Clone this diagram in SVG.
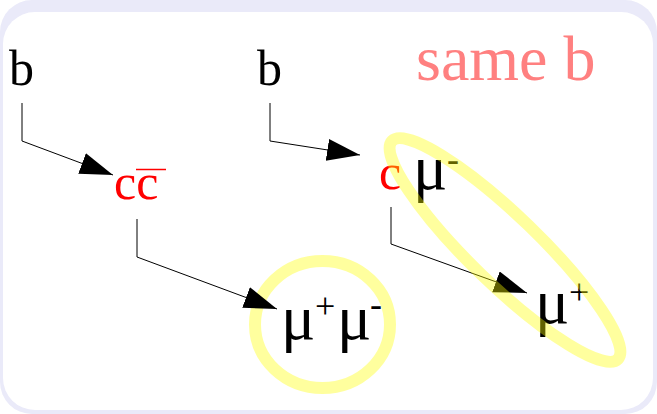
<svg xmlns="http://www.w3.org/2000/svg" width="657" height="414" viewBox="0 0 657 414">
<defs>
<style>
.t{font-family:"Liberation Serif","Times New Roman",serif;fill:#000}
.big{font-size:50px}
.mu{font-size:64px}
.sup{font-size:36px}
.red{fill:#ff0000}
.conn{fill:none;stroke:#000;stroke-width:1}
.hl{fill:none;stroke:#ffff00;stroke-opacity:0.38;stroke-width:12}
</style>
<marker id="ah" markerUnits="userSpaceOnUse" markerWidth="34" markerHeight="24" refX="33" refY="11" orient="auto">
<path d="M0,0 L33,11 L0,22 Z" fill="#000"/>
</marker>
</defs>
<rect x="0" y="0" width="657" height="414" rx="32" fill="#eaeaf9"/>
<rect x="3" y="12" width="650" height="398" rx="32" fill="#fff"/>
<g id="label-same">
<text class="t" x="416" y="80" style="font-size:64px;fill:#ff8080">same b</text>
</g>
<g id="b1"><text class="t big" x="9" y="85">b</text></g>
<g id="b2"><text class="t big" x="257" y="85">b</text></g>
<g id="ccbar">
<text class="t big red" x="114" y="199">cc</text>
<line x1="136" y1="169.5" x2="166" y2="169.5" stroke="#ff0000" stroke-width="1.5"/>
</g>
<g id="c-mu">
<text class="t big red" x="379" y="189">c</text>
<text class="t mu" x="413" y="189">μ</text>
<text class="t sup" x="447" y="171">-</text>
</g>
<g id="circle-hl"><ellipse class="hl" cx="322.5" cy="324.5" rx="67.5" ry="63.5"/></g>
<g id="mumu">
<text class="t mu" x="281" y="339">μ</text>
<text class="t sup" x="315" y="318">+</text>
<text class="t mu" x="337" y="339">μ</text>
<text class="t sup" x="370" y="316">-</text>
</g>
<g id="muplus">
<text class="t mu" x="535" y="323">μ</text>
<text class="t sup" x="569" y="304">+</text>
</g>
<g id="connectors">
<polyline class="conn" points="22,103 22,141 113,175" marker-end="url(#ah)"/>
<polyline class="conn" points="137,219 137,257 277,309" marker-end="url(#ah)"/>
<polyline class="conn" points="270,103 270,141 360,155" marker-end="url(#ah)"/>
<polyline class="conn" points="391,207 391,244 527,293" marker-end="url(#ah)"/>
</g>
<g id="ellipse-hl"><ellipse class="hl" cx="505" cy="250" rx="157" ry="34" transform="rotate(44 505 250)"/></g>
</svg>
